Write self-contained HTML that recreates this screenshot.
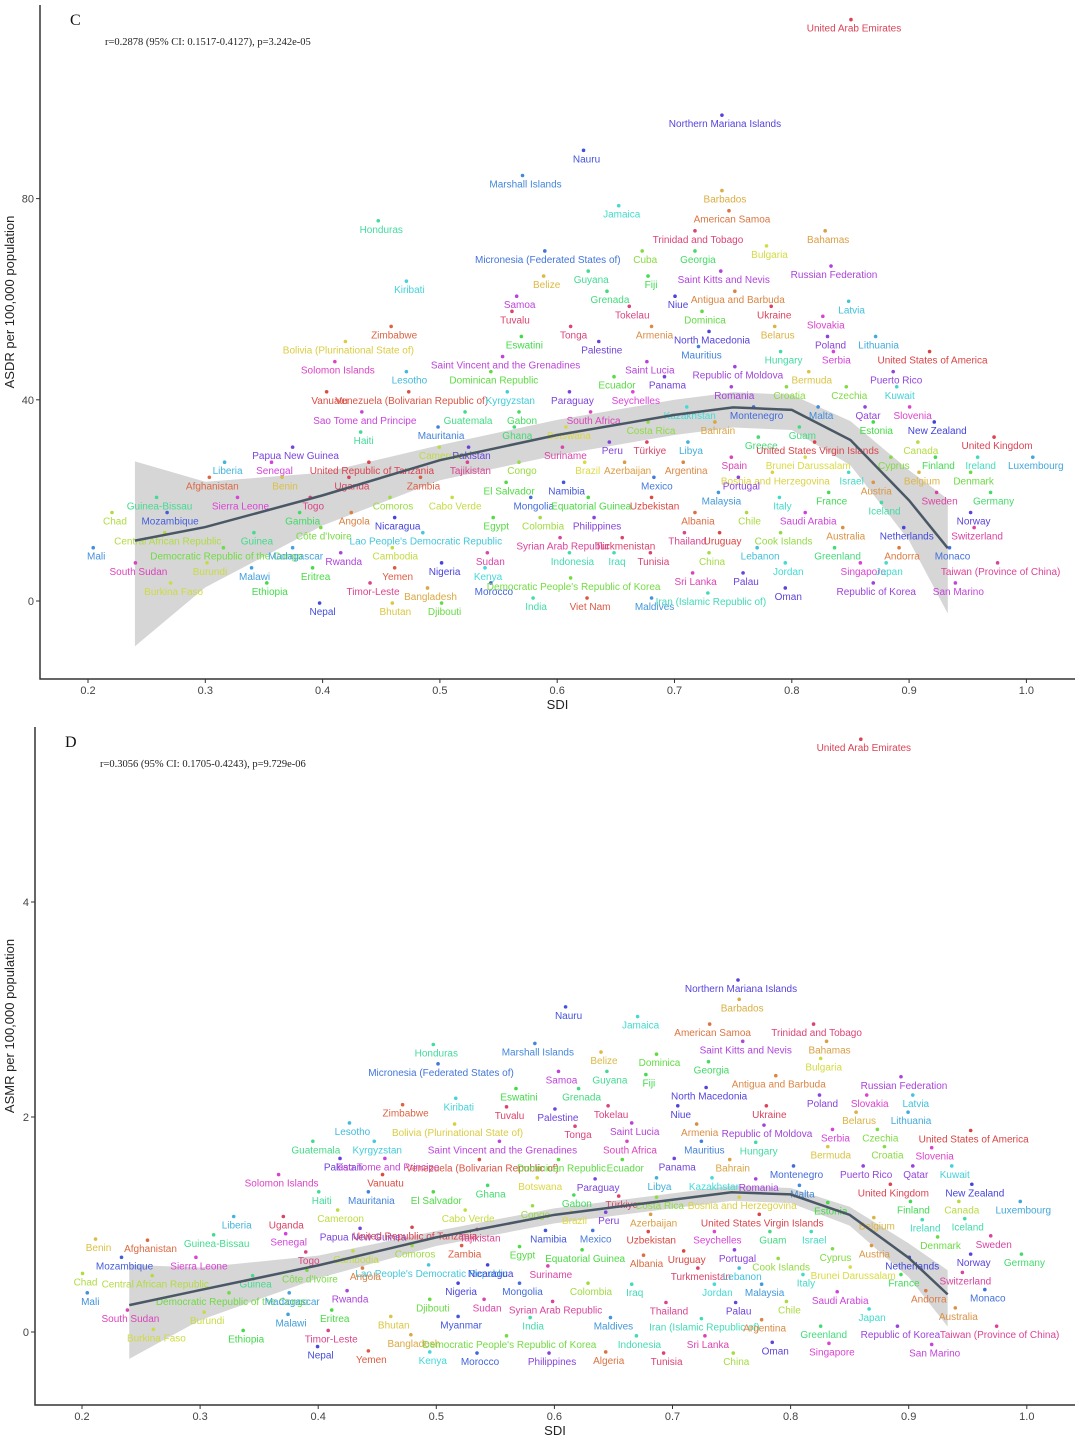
<!DOCTYPE html>
<html><head><meta charset="utf-8">
<style>
html,body{margin:0;padding:0;background:#fff;}
svg{display:block;font-family:"Liberation Sans",sans-serif;}
.lbl{font-size:10px;}
.tick{font-size:11px;fill:#444;}
</style></head>
<body>
<svg id="chart" width="1080" height="1436" viewBox="0 0 1080 1436" xmlns="http://www.w3.org/2000/svg"></svg>
<script>
// ---------- data ----------
const xTicks = [0.2,0.3,0.4,0.5,0.6,0.7,0.8,0.9,1.0];
const yTicksC = [0,40,80];
const yTicksD = [0,2,4];
// smoothing fit (loess) estimates
const fitSdiC = [0.24,0.3,0.4,0.5,0.6,0.7,0.75,0.8,0.85,0.9,0.933];
const fitValC = [12,14.7,21,28,33,37,38.5,38,32,20,10.5];
const fitSeC  = [21,12,6,4,4,4,4,4,5,8,13];
const fitSdiD = [0.24,0.3,0.4,0.5,0.6,0.7,0.75,0.8,0.85,0.9,0.933];
const fitValD = [0.25,0.39,0.62,0.88,1.09,1.23,1.3,1.28,1.09,0.69,0.35];
const fitSeD  = [0.5,0.28,0.12,0.08,0.08,0.08,0.08,0.08,0.1,0.18,0.3];

const namesC = ["United Arab Emirates","Northern Mariana Islands","Nauru","Marshall Islands","Barbados","Jamaica","American Samoa","Honduras","Trinidad and Tobago","Bahamas","Micronesia (Federated States of)","Cuba","Georgia","Bulgaria","Saint Kitts and Nevis","Russian Federation","Fiji","Belize","Guyana","Kiribati","Grenada","Niue","Antigua and Barbuda","Samoa","Latvia","Tuvalu","Tokelau","Dominica","Ukraine","Slovakia","Zimbabwe","Tonga","Armenia","North Macedonia","Belarus","Eswatini","Poland","Lithuania","Bolivia (Plurinational State of)","Palestine","Mauritius","Hungary","Serbia","United States of America","Saint Vincent and the Grenadines","Saint Lucia","Solomon Islands","Republic of Moldova","Bermuda","Puerto Rico","Lesotho","Dominican Republic","Ecuador","Panama","Vanuatu","Venezuela (Bolivarian Republic of)","Kyrgyzstan","Paraguay","Seychelles","Romania","Croatia","Czechia","Kuwait","Sao Tome and Principe","Guatemala","Gabon","South Africa","Kazakhstan","Montenegro","Malta","Qatar","Slovenia","Haiti","Mauritania","Ghana","Botswana","Costa Rica","Bahrain","Guam","Estonia","New Zealand","Papua New Guinea","Cameroon","Pakistan","Suriname","Peru","Türkiye","Libya","Greece","United States Virgin Islands","Canada","United Kingdom","Liberia","Senegal","United Republic of Tanzania","Tajikistan","Congo","Spain","Brunei Darussalam","Cyprus","Finland","Ireland","Luxembourg","Brazil","Azerbaijan","Argentina","Bosnia and Herzegovina","Portugal","Israel","Afghanistan","Benin","Uganda","Zambia","El Salvador","Namibia","Mexico","Belgium","Denmark","Austria","Guinea-Bissau","Sierra Leone","Togo","Comoros","Cabo Verde","Mongolia","Equatorial Guinea","Uzbekistan","Malaysia","Italy","France","Sweden","Germany","Chad","Mozambique","Gambia","Angola","Nicaragua","Egypt","Colombia","Philippines","Albania","Chile","Saudi Arabia","Iceland","Norway","Central African Republic","Guinea","Côte d'Ivoire","Lao People's Democratic Republic","Syrian Arab Republic","Turkmenistan","Thailand","Uruguay","Cook Islands","Australia","Netherlands","Switzerland","Mali","Democratic Republic of the Congo","Madagascar","Rwanda","Cambodia","Sudan","Indonesia","Iraq","Tunisia","China","Lebanon","Greenland","Andorra","Monaco","South Sudan","Burundi","Malawi","Eritrea","Yemen","Nigeria","Kenya","Sri Lanka","Palau","Jordan","Singapore","Japan","Taiwan (Province of China)","Burkina Faso","Ethiopia","Timor-Leste","Bangladesh","Morocco","Democratic People's Republic of Korea","Republic of Korea","San Marino","Oman","Iran (Islamic Republic of)","Nepal","Bhutan","Djibouti","India","Viet Nam","Maldives"];
const sdiC = [0.853,0.743,0.625,0.573,0.743,0.655,0.749,0.45,0.72,0.831,0.592,0.675,0.72,0.781,0.742,0.836,0.68,0.591,0.629,0.474,0.645,0.703,0.754,0.568,0.851,0.564,0.664,0.726,0.785,0.829,0.461,0.614,0.683,0.732,0.788,0.572,0.833,0.874,0.422,0.638,0.723,0.793,0.838,0.92,0.556,0.679,0.413,0.754,0.817,0.889,0.474,0.546,0.651,0.694,0.406,0.476,0.56,0.613,0.667,0.751,0.798,0.849,0.892,0.436,0.524,0.57,0.631,0.713,0.77,0.825,0.865,0.903,0.435,0.501,0.566,0.61,0.68,0.737,0.809,0.872,0.924,0.377,0.502,0.527,0.607,0.647,0.679,0.714,0.774,0.822,0.91,0.975,0.319,0.359,0.442,0.526,0.57,0.751,0.814,0.887,0.925,0.961,1.008,0.626,0.66,0.71,0.786,0.757,0.851,0.306,0.368,0.425,0.486,0.559,0.608,0.685,0.911,0.955,0.872,0.261,0.33,0.392,0.46,0.513,0.58,0.629,0.683,0.74,0.792,0.834,0.926,0.972,0.223,0.27,0.383,0.427,0.464,0.548,0.588,0.634,0.72,0.764,0.814,0.879,0.955,0.268,0.344,0.401,0.488,0.605,0.658,0.711,0.741,0.793,0.846,0.898,0.958,0.207,0.318,0.377,0.418,0.462,0.543,0.613,0.651,0.682,0.732,0.773,0.839,0.894,0.937,0.243,0.304,0.342,0.394,0.464,0.504,0.541,0.718,0.761,0.797,0.861,0.883,0.978,0.273,0.355,0.443,0.492,0.546,0.614,0.872,0.942,0.797,0.731,0.4,0.462,0.504,0.582,0.628,0.683];
const valC = [114,95,88,83,80,77,76,74,72,72,68,68,68,69,64,65,63,63,64,62,60,59,60,59,58,56,57,56,57,55,53,53,53,52,53,51,51,51,50,50,49,48,48,48,47,46,46,45,44,44,44,44,43,43,40,40,40,40,40,41,41,41,41,36,36,36,36,37,37,37,37,37,32,33,33,33,34,34,33,34,34,29,29,29,29,30,30,30,31,30,30,31,26,26,26,26,26,27,27,27,27,27,27,26,26,26,24,23,24,23,23,23,23,22,22,23,24,24,22,19,19,19,19,19,19,19,19,20,19,20,20,20,16,16,16,16,15,15,15,15,16,16,16,18,16,12,12,13,12,11,11,12,12,12,13,13,13,9,9,9,8,9,8,8,8,8,8,9,9,9,9,6,6,5,5,5,6,5,4,4,6,6,6,6,2,2,2,1,2,3,2,2,1,0,-2,-2,-2,-1,-1,-1];

const namesD = ["United Arab Emirates","Northern Mariana Islands","Barbados","Nauru","Jamaica","American Samoa","Trinidad and Tobago","Honduras","Marshall Islands","Saint Kitts and Nevis","Bahamas","Belize","Dominica","Micronesia (Federated States of)","Georgia","Bulgaria","Samoa","Guyana","Fiji","Antigua and Barbuda","Russian Federation","Eswatini","Grenada","North Macedonia","Kiribati","Poland","Slovakia","Latvia","Zimbabwe","Tuvalu","Palestine","Tokelau","Niue","Ukraine","Belarus","Lithuania","Lesotho","Bolivia (Plurinational State of)","Tonga","Saint Lucia","Armenia","Republic of Moldova","Serbia","Czechia","United States of America","Guatemala","Kyrgyzstan","Saint Vincent and the Grenadines","South Africa","Mauritius","Hungary","Bermuda","Croatia","Slovenia","Pakistan","Sao Tome and Principe","Venezuela (Bolivarian Republic of)","Dominican Republic","Ecuador","Panama","Bahrain","Montenegro","Puerto Rico","Qatar","Kuwait","Solomon Islands","Vanuatu","Botswana","Paraguay","Libya","Kazakhstan","Romania","Haiti","Mauritania","El Salvador","Ghana","Malta","United Kingdom","New Zealand","Cameroon","Gabon","Türkiye","Costa Rica","Bosnia and Herzegovina","Estonia","Finland","Canada","Luxembourg","Cabo Verde","Congo","Liberia","Uganda","Brazil","Peru","Azerbaijan","United States Virgin Islands","Belgium","Ireland","Iceland","Papua New Guinea","United Republic of Tanzania","Tajikistan","Namibia","Mexico","Uzbekistan","Seychelles","Guam","Israel","Benin","Afghanistan","Guinea-Bissau","Senegal","Comoros","Zambia","Egypt","Equatorial Guinea","Uruguay","Portugal","Cyprus","Austria","Denmark","Sweden","Mozambique","Sierra Leone","Togo","Cambodia","Albania","Cook Islands","Netherlands","Norway","Germany","Lao People's Democratic Republic","Nicaragua","Suriname","Turkmenistan","Lebanon","Brunei Darussalam","Chad","Central African Republic","Guinea","Côte d'Ivoire","Angola","Italy","France","Switzerland","Mali","Democratic Republic of the Congo","Madagascar","Rwanda","Nigeria","Mongolia","Colombia","Iraq","Jordan","Malaysia","Saudi Arabia","Andorra","Monaco","Djibouti","Sudan","Syrian Arab Republic","Thailand","Palau","Chile","Australia","Japan","South Sudan","Burundi","Malawi","Eritrea","Bhutan","India","Maldives","Iran (Islamic Republic of)","Argentina","Greenland","Republic of Korea","Taiwan (Province of China)","Burkina Faso","Ethiopia","Timor-Leste","Myanmar","Bangladesh","Democratic People's Republic of Korea","Indonesia","Sri Lanka","Oman","Singapore","San Marino","Nepal","Yemen","Kenya","Morocco","Philippines","Algeria","Tunisia","China"];
const pxD = [[864,747],[741,988],[742,1007],[569,1015],[641,1025],[713,1032],[817,1032],[436,1053],[538,1051],[746,1049],[830,1049],[604,1060],[659,1062],[441,1072],[712,1070],[824,1067],[562,1079],[610,1079],[649,1083],[779,1084],[904,1085],[519,1097],[582,1097],[709,1096],[459,1106],[823,1103],[870,1103],[916,1103],[406,1113],[509,1115],[558,1117],[611,1114],[681,1114],[769,1114],[859,1120],[911,1120],[353,1131],[458,1132],[578,1134],[635,1131],[700,1132],[767,1133],[835,1137],[880,1137],[974,1138],[316,1149],[377,1149],[502,1149],[630,1149],[704,1149],[759,1150],[831,1155],[888,1155],[935,1156],[343,1166],[388,1166],[482,1167],[561,1167],[625,1168],[677,1166],[733,1167],[796,1174],[866,1174],[916,1174],[955,1174],[282,1183],[385,1183],[540,1186],[598,1187],[659,1186],[715,1186],[759,1187],[322,1200],[371,1200],[436,1200],[491,1193],[802,1193],[893,1192],[975,1192],[341,1218],[577,1203],[622,1204],[659,1205],[742,1205],[831,1210],[914,1209],[962,1209],[1023,1209],[468,1218],[536,1214],[237,1225],[286,1224],[574,1220],[609,1220],[654,1222],[762,1222],[877,1226],[925,1228],[968,1227],[363,1236],[415,1235],[480,1237],[549,1238],[596,1238],[651,1240],[717,1240],[773,1240],[814,1240],[99,1247],[151,1248],[217,1243],[289,1242],[415,1253],[465,1254],[522,1255],[585,1258],[687,1259],[737,1258],[836,1257],[875,1253],[941,1245],[994,1244],[124,1265],[199,1265],[309,1260],[356,1259],[646,1263],[781,1266],[912,1265],[974,1262],[1024,1262],[432,1273],[491,1273],[551,1274],[701,1276],[742,1276],[853,1275],[85,1282],[155,1284],[256,1284],[310,1278],[366,1276],[806,1283],[904,1283],[965,1280],[90,1301],[232,1301],[292,1301],[350,1299],[461,1291],[523,1291],[591,1291],[635,1292],[717,1292],[765,1292],[840,1300],[929,1299],[988,1298],[433,1307],[487,1307],[555,1309],[669,1310],[739,1310],[789,1309],[958,1316],[872,1317],[131,1318],[207,1320],[291,1322],[335,1318],[394,1324],[533,1326],[614,1326],[704,1327],[765,1328],[824,1334],[901,1334],[1000,1334],[156,1337],[246,1338],[331,1338],[461,1325],[414,1343],[510,1344],[640,1344],[708,1344],[775,1350],[832,1351],[935,1352],[320,1355],[371,1359],[433,1360],[480,1361],[552,1361],[609,1360],[667,1361],[736,1361]];
const sdiD = pxD.map(p => +(0.2 + (p[0]-82)/1181).toFixed(3));
const valD = pxD.map(p => +((1332 - p[1])/107.5).toFixed(2));

// ---------- drawing ----------
const NS = "http://www.w3.org/2000/svg";
const svg = document.getElementById('chart');
const allNames = Array.from(new Set(namesC.concat(namesD))).sort();
function colorOf(n){ const i = allNames.indexOf(n); const h = Math.round(15 + i/allNames.length*360)%360; return `hsl(${h},68%,56%)`; }
function mk(tag, attrs, parent){ const e = document.createElementNS(NS, tag); for (const k in attrs) e.setAttribute(k, attrs[k]); (parent||svg).appendChild(e); return e; }

function panel(cfg){
  const g = mk('g', {});
  
  
  const xS = v => cfg.x0 + (v - 0.2) * cfg.xk;
  const yS = v => cfg.y0 - v * cfg.yk;
  let up = [], lo = [];
  cfg.fs.forEach((s,i)=>{ up.push(xS(s)+','+Math.min(yS(cfg.fv[i]+cfg.se[i]*0.75),cfg.bottom)); lo.unshift(xS(s)+','+Math.min(yS(cfg.fv[i]-cfg.se[i]),cfg.bottom)); });
  const band = mk('polygon', {points: up.concat(lo).join(' '), fill:'#c8c8c8', opacity:'0.75'}, g);
  
  
  cfg.names.forEach((n,i)=>{
    const c = colorOf(n);
    const px = xS(cfg.sdi[i]), py = yS(cfg.val[i]);
    const dot = mk('circle', {cx: px-3, cy: py-8, r: 1.8, fill: c}, g);
    
    
    const t = mk('text', {x: px, y: py+4, 'text-anchor':'middle', fill: c, class:'lbl'}, g);
    t.textContent = n;
    
    
  });
  const line = mk('polyline', {points: cfg.fs.map((s,i)=>xS(s)+','+yS(cfg.fv[i])).join(' '), fill:'none', stroke:'#4a5866', 'stroke-width':'2.5'}, g);
  
  
  const ax = mk('path', {d:`M${cfg.left},${cfg.top} V${cfg.bottom} H1075`, stroke:'#333', 'stroke-width':'1.5', fill:'none'}, g);
  
  
  xTicks.forEach(v=>{
    mk('line', {x1:xS(v), x2:xS(v), y1:cfg.bottom, y2:cfg.bottom+4, stroke:'#333'}, g);
    const t = mk('text', {x:xS(v), y:cfg.bottom+15, 'text-anchor':'middle', class:'tick'}, g);
    t.textContent = v.toFixed(1);
    
    
  });
  cfg.yt.forEach(v=>{
    mk('line', {x1:cfg.left-4, x2:cfg.left, y1:yS(v), y2:yS(v), stroke:'#333'}, g);
    const t = mk('text', {x:cfg.left-6, y:yS(v)+4, 'text-anchor':'end', class:'tick'}, g);
    t.textContent = v;
    
    
  });
  const xt = mk('text', {x:(cfg.left+1075)/2, y:cfg.bottom+30, 'text-anchor':'middle', 'font-size':'13', fill:'#222'}, g);
  xt.textContent = 'SDI';
  
  
  const cy = (cfg.top+cfg.bottom)/2 - 40;
  const yt = mk('text', {x:14, y:cy, transform:`rotate(-90 14 ${cy})`, 'text-anchor':'middle', 'font-size':'13', fill:'#222'}, g);
  yt.textContent = cfg.ytitle;
  
  
  const letter = mk('text', {x:cfg.left+30, y:cfg.top+20, 'font-family':'Liberation Serif, serif', 'font-size':'16', fill:'#111'}, g);
  letter.textContent = cfg.letter;
  
  
  const st = mk('text', {x:cfg.left+65, y:cfg.top+40, 'font-family':'Liberation Serif, serif', 'font-size':'10.5', fill:'#222'}, g);
  st.textContent = cfg.stat;
  
  
}

panel({id:'panel-c', x0:88, xk:1173, y0:601, yk:5.03, left:40, top:5, bottom:679, yt:yTicksC,
  names:namesC, sdi:sdiC, val:valC, fs:fitSdiC, fv:fitValC, se:fitSeC,
  ytitle:'ASDR per 100,000 population', letter:'C', stat:'r=0.2878 (95% CI: 0.1517-0.4127), p=3.242e-05'});
panel({id:'panel-d', x0:82, xk:1181, y0:1332, yk:107.5, left:35, top:727, bottom:1405, yt:yTicksD,
  names:namesD, sdi:sdiD, val:valD, fs:fitSdiD, fv:fitValD, se:fitSeD,
  ytitle:'ASMR per 100,000 population', letter:'D', stat:'r=0.3056 (95% CI: 0.1705-0.4243), p=9.729e-06'});
</script>
</body></html>
